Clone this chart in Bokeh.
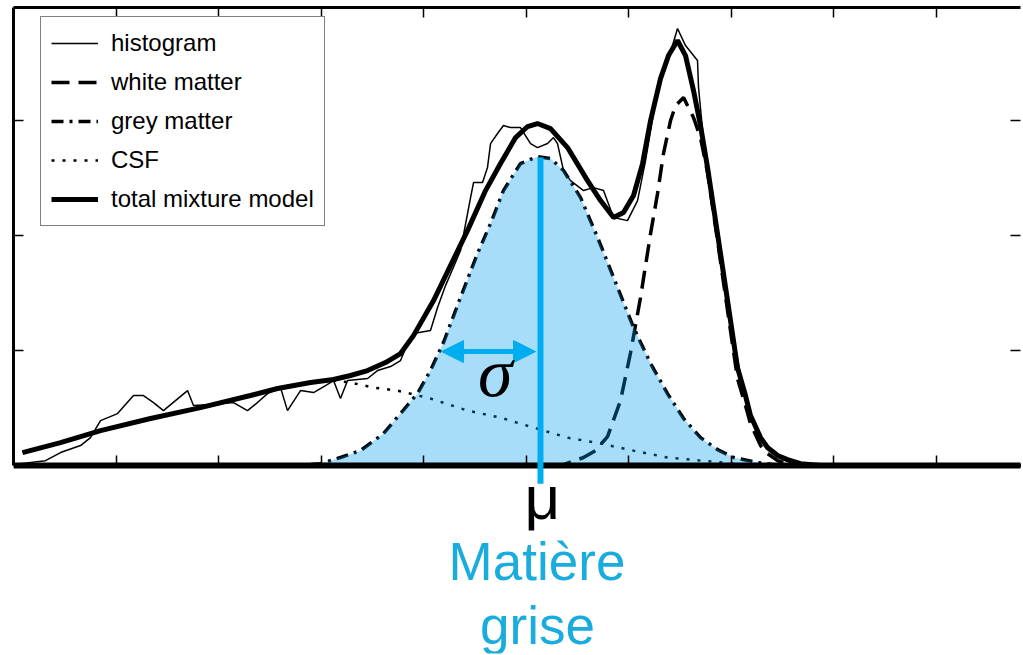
from bokeh.plotting import figure
from bokeh.models import (Legend, LegendItem, LinearAxis, FixedTicker, Label,
                          Arrow, NormalHead, Range1d, CustomJSTickFormatter)
from bokeh.embed import file_html
from bokeh.resources import INLINE

# ---------------- data ----------------
x_ticks = [1, 2, 3, 4, 5, 6, 7, 8, 9]
y_ticks = [1, 2, 3]

hist_x = [0.068, 0.312, 0.459, 0.654, 0.751, 0.849, 1.015, 1.171, 1.268, 1.366, 1.463,
          1.580, 1.698, 1.756, 1.922, 2.146, 2.283, 2.380, 2.478, 2.605, 2.673, 2.800,
          2.927, 3.044, 3.122, 3.190, 3.259, 3.454, 3.551, 3.678, 3.776, 3.844, 3.902,
          4.068, 4.137, 4.215, 4.361, 4.459, 4.488, 4.576, 4.624, 4.654, 4.722, 4.780,
          4.849, 4.946, 5.044, 5.112, 5.210, 5.268, 5.307, 5.366, 5.434, 5.561, 5.659,
          5.756, 5.854, 5.990, 6.088, 6.166, 6.215, 6.283, 6.361, 6.429, 6.478, 6.556,
          6.673, 6.683, 6.732, 6.800, 6.898, 6.995, 7.093, 7.190, 7.288, 7.385, 7.483,
          7.580, 7.678, 9.9]
hist_y = [0.017, 0.043, 0.113, 0.174, 0.243, 0.391, 0.452, 0.609, 0.609, 0.548, 0.478,
          0.565, 0.652, 0.522, 0.530, 0.548, 0.478, 0.548, 0.626, 0.678, 0.478, 0.652,
          0.635, 0.696, 0.739, 0.583, 0.739, 0.757, 0.826, 0.861, 0.913, 1.061, 1.148,
          1.174, 1.374, 1.565, 1.870, 2.330, 2.461, 2.461, 2.591, 2.800, 2.887, 2.957,
          2.939, 2.939, 2.800, 2.765, 2.800, 2.852, 2.800, 2.565, 2.478, 2.391, 2.417,
          2.391, 2.157, 2.130, 2.304, 2.652, 2.913, 3.261, 3.478, 3.652, 3.800, 3.652,
          3.522, 3.287, 2.826, 2.435, 1.870, 1.261, 0.783, 0.435, 0.243, 0.130, 0.070,
          0.026, 0.0, 0.0]

white_x = [0.0, 5.337, 5.561, 5.678, 5.795, 5.922, 6.020, 6.117, 6.215, 6.283, 6.341,
           6.410, 6.459, 6.537, 6.634, 6.702, 6.771, 6.868, 6.966, 7.063, 7.141, 7.190,
           7.288, 7.356, 7.454, 7.580, 7.678, 9.9]
white_y = [0.0, 0.0, 0.070, 0.130, 0.252, 0.565, 0.983, 1.461, 2.017, 2.365, 2.713,
           3.000, 3.130, 3.200, 3.026, 2.852, 2.548, 1.957, 1.348, 0.757, 0.522, 0.365,
           0.174, 0.104, 0.043, 0.009, 0.0, 0.0]

grey_x = [0.0, 2.800, 2.995, 3.190, 3.385, 3.610, 3.776, 3.941, 4.068, 4.195, 4.361,
          4.527, 4.654, 4.780, 4.946, 5.112, 5.239, 5.366, 5.532, 5.698, 5.854, 6.049,
          6.215, 6.380, 6.537, 6.702, 6.868, 7.024, 7.259, 7.483, 9.9]
grey_y = [0.0, 0.0, 0.017, 0.070, 0.130, 0.278, 0.452, 0.626, 0.826, 1.070, 1.461,
          1.843, 2.104, 2.391, 2.626, 2.687, 2.670, 2.565, 2.330, 1.983, 1.635, 1.200,
          0.887, 0.626, 0.409, 0.243, 0.139, 0.070, 0.026, 0.0, 0.0]

csf_x = [0.088, 0.459, 0.849, 1.337, 1.824, 2.312, 2.576, 2.898, 3.122, 3.288, 3.512,
         3.746, 4.068, 4.429, 4.751, 5.073, 5.405, 5.727, 6.049, 6.380, 6.702, 7.024,
         7.288, 9.9]
csf_y = [0.113, 0.200, 0.304, 0.409, 0.504, 0.609, 0.670, 0.722, 0.739, 0.722, 0.678,
         0.652, 0.583, 0.478, 0.417, 0.330, 0.243, 0.191, 0.130, 0.070, 0.043, 0.017,
         0.0, 0.0]

total_x = [0.088, 0.459, 0.849, 1.337, 1.824, 2.312, 2.576, 2.898, 3.122, 3.288, 3.454,
           3.629, 3.776, 3.902, 4.098, 4.263, 4.429, 4.605, 4.751, 4.898, 5.015, 5.112,
           5.239, 5.405, 5.600, 5.727, 5.854, 5.951, 6.049, 6.137, 6.215, 6.312, 6.390,
           6.478, 6.556, 6.634, 6.702, 6.771, 6.868, 6.966, 7.063, 7.141, 7.190, 7.288,
           7.356, 7.454, 7.551, 7.678, 7.873, 9.9]
total_y = [0.113, 0.200, 0.304, 0.409, 0.504, 0.609, 0.670, 0.722, 0.748, 0.783, 0.826,
           0.896, 0.974, 1.130, 1.435, 1.739, 2.043, 2.391, 2.626, 2.852, 2.948, 2.974,
           2.930, 2.765, 2.478, 2.304, 2.157, 2.200, 2.348, 2.626, 3.000, 3.365, 3.565,
           3.696, 3.565, 3.261, 2.957, 2.591, 2.017, 1.435, 0.852, 0.609, 0.435, 0.243,
           0.157, 0.087, 0.052, 0.017, 0.0, 0.0]

legend_labels = ["histogram", "white matter", "grey matter", "CSF", "total mixture model"]

mu_x = 5.141          # grey matter mean
mu_peak = 2.678
sigma_left = 4.176    # mu - sigma (as drawn)
sigma_level = 0.991
y_top = 3.983

BLUE = "#00AEEF"
FILL = "#009AED"
TEXT_BLUE = "#1AACDC"

# ---------------- figure ----------------
p = figure(width=1023, height=655, output_backend="svg", toolbar_location=None,
           x_range=Range1d(0, 9.824), y_range=Range1d(-1.634, y_top),
           min_border_left=13, min_border_right=3, min_border_top=7, min_border_bottom=2,
           background_fill_color="white", border_fill_color="white")
p.outline_line_color = None
p.xgrid.grid_line_color = None
p.ygrid.grid_line_color = None

blank = CustomJSTickFormatter(code="return ''")


def style_axis(ax, ticks, line=True, width=3):
    ax.ticker = FixedTicker(ticks=ticks)
    ax.formatter = blank
    ax.major_tick_in = 10
    ax.major_tick_out = 0
    ax.minor_tick_in = 0
    ax.minor_tick_out = 0
    ax.major_tick_line_color = "black"
    ax.major_tick_line_width = 1.5
    ax.major_label_text_font_size = "1px"
    ax.major_label_standoff = 0
    ax.axis_line_width = width
    ax.axis_line_color = "black" if line else None


# bottom axis sits at y = 0 inside the frame, the texts go below it
style_axis(p.xaxis[0], x_ticks, width=6)
p.xaxis[0].fixed_location = 0
style_axis(p.yaxis[0], y_ticks)
p.yaxis[0].bounds = (0, y_top)
top_ax = LinearAxis()
style_axis(top_ax, x_ticks)
p.add_layout(top_ax, "above")
right_ax = LinearAxis(bounds=(0, y_top))
style_axis(right_ax, y_ticks, line=False)
p.add_layout(right_ax, "right")

# curves
r_hist = p.line(hist_x, hist_y, line_color="black", line_width=1.5)
r_white = p.line(white_x, white_y, line_color="black", line_width=3.5, line_dash="18 9")
r_grey = p.line(grey_x, grey_y, line_color="black", line_width=3.5, line_dash="12 6 3 6")
r_csf = p.line(csf_x, csf_y, line_color="black", line_width=2.5, line_dash="3 8")
r_total = p.line(total_x, total_y, line_color="black", line_width=5)

# blue shading of the grey matter component
p.varea(x=grey_x, y1=[0] * len(grey_x), y2=grey_y, fill_color=FILL, fill_alpha=0.34)

legend = Legend(
    items=[LegendItem(label=l, renderers=[r]) for l, r in
           zip(legend_labels, [r_hist, r_white, r_grey, r_csf, r_total])],
    location=(27, 427), margin=0, padding=10, spacing=7,
    label_height=32, glyph_height=32, glyph_width=47, label_standoff=13,
    label_text_font="Liberation Sans", label_text_font_size="24px",
    label_text_color="black",
    border_line_color="black", border_line_width=1.5,
    background_fill_color="white", background_fill_alpha=1.0)
p.add_layout(legend)

# mu line (runs a little below the axis) and sigma arrow
p.add_layout(Arrow(start=None, end=None, x_start=mu_x, y_start=mu_peak,
                   x_end=mu_x, y_end=-0.157, line_color=BLUE, line_width=6))
p.add_layout(Arrow(start=NormalHead(size=22, fill_color=BLUE, line_color=BLUE),
                   end=NormalHead(size=22, fill_color=BLUE, line_color=BLUE),
                   x_start=sigma_left, y_start=sigma_level, x_end=mu_x - 0.048,
                   y_end=sigma_level, line_color=BLUE, line_width=5))

p.add_layout(Label(x=4.70, y=0.81, text="σ", text_font="Liberation Serif",
                   text_font_style="italic", text_font_size="70px",
                   text_align="center", text_baseline="alphabetic", text_color="black"))
p.add_layout(Label(x=5.16, y=-0.278, text="μ", text_font="Liberation Sans",
                   text_font_size="62px", text_align="center",
                   text_baseline="alphabetic", text_color="black"))
p.add_layout(Label(x=5.107, y=-0.835, text="Matière", text_font="Liberation Sans",
                   text_font_size="53px", text_align="center",
                   text_baseline="alphabetic", text_color=TEXT_BLUE))
p.add_layout(Label(x=5.112, y=-1.39, text="grise", text_font="Liberation Sans",
                   text_font_size="53px", text_align="center",
                   text_baseline="alphabetic", text_color=TEXT_BLUE))

open("out.html", "w").write(file_html(p, INLINE))
